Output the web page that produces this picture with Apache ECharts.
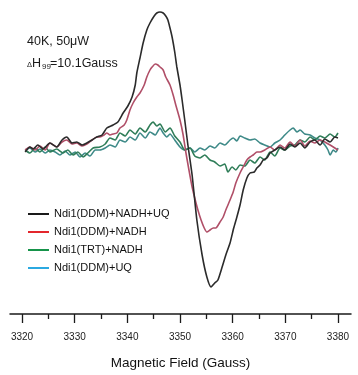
<!DOCTYPE html>
<html>
<head>
<meta charset="utf-8">
<script src="https://cdn.jsdelivr.net/npm/echarts@6/dist/echarts.min.js"></script>
<style>html,body{margin:0;padding:0;background:#fff;}#c{width:358px;height:375px;}</style>
</head>
<body>
<div id="c"></div>
<script>
var seriesNames = ['Ndi1(DDM)+NADH+UQ', 'Ndi1(DDM)+NADH', 'Ndi1(TRT)+NADH', 'Ndi1(DDM)+UQ'];
var majorTicks = [3320, 3330, 3340, 3350, 3360, 3370, 3380];
var minorTicks = [3325, 3335, 3345, 3355, 3365, 3375];

var blackField = [3320.6,3321.5,3322.1,3323.0,3324.0,3325.3,3326.6,3327.6,3328.5,3329.5,3330.4,3331.4,3332.3,3333.3,3334.2,3335.2,3336.1,3337.3,3338.2,3339.2,3340.1,3340.9,3341.5,3341.8,3342.4,3343.0,3343.7,3344.3,3345.1,3345.6,3346.2,3346.8,3347.3,3347.7,3348.1,3348.5,3349.0,3349.4,3350.0,3350.4,3350.9,3351.5,3352.3,3353.2,3354.2,3355.1,3355.9,3356.6,3357.2,3358.0,3358.7,3359.5,3360.2,3360.8,3361.4,3362.0,3362.7,3363.3,3364.1,3364.6,3365.2,3365.8,3366.5,3367.1,3368.0,3369.0,3369.9,3370.9,3371.8,3372.8,3373.7,3374.7,3375.6,3376.6,3377.5,3378.5,3379.4,3380.0];
var blackInt = [-4,1,-1,3,-1,5,1,8,11,5,6,3,5,8,11,13,20,23,26,35,42,51,63,75,90,105,118,125,132,135,136,135,132,128,120,111,96,81,63,48,28,3,-27,-72,-107,-129,-139,-135,-132,-119,-107,-95,-80,-69,-57,-42,-30,-25,-24,-20,-17,-12,-10,-5,-2,1,-2,4,1,5,0,6,8,3,9,6,11,10];

var redField = [3320.6,3321.5,3322.5,3323.4,3324.4,3325.3,3326.6,3327.6,3328.5,3329.5,3330.4,3331.4,3332.3,3333.3,3334.2,3334.8,3335.6,3336.1,3336.7,3337.3,3338.0,3338.6,3339.4,3339.9,3340.5,3341.1,3341.8,3342.4,3343.2,3343.7,3344.3,3344.7,3345.3,3345.8,3346.2,3346.8,3347.3,3348.1,3348.7,3349.2,3350.0,3350.6,3351.1,3351.7,3352.3,3352.8,3353.4,3354.0,3354.6,3355.1,3355.7,3356.3,3356.8,3357.6,3358.2,3358.7,3359.5,3360.1,3360.6,3361.4,3362.0,3362.7,3363.3,3363.9,3364.6,3365.2,3366.1,3367.1,3368.0,3369.0,3369.9,3370.9,3371.8,3372.8,3373.7,3374.7,3375.6,3376.6,3377.5,3378.5,3379.4,3380.0];
var redInt = [-2,1,-2,2,-2,5,1,6,8,4,5,2,4,8,11,11,13,15,13,14,15,20,23,28,38,45,51,55,63,71,78,81,84,83,81,78,71,63,53,43,28,13,-4,-22,-39,-50,-62,-72,-80,-84,-82,-80,-80,-74,-69,-62,-52,-44,-35,-25,-19,-12,-9,-7,-4,-4,-2,1,-2,3,0,6,2,8,2,7,5,8,6,3,0,-2];

var greenField = [3320.6,3321.5,3322.5,3323.4,3324.4,3325.3,3326.6,3327.8,3328.7,3329.7,3330.6,3331.6,3332.5,3333.5,3334.8,3335.8,3336.7,3337.7,3338.6,3339.6,3340.5,3341.5,3342.4,3343.4,3344.3,3344.9,3345.6,3346.2,3347.2,3348.1,3349.0,3350.0,3350.9,3351.9,3352.8,3353.8,3354.7,3355.7,3356.6,3357.6,3358.5,3359.1,3359.9,3360.6,3361.4,3362.3,3363.3,3364.2,3365.2,3366.1,3367.1,3368.0,3369.0,3369.9,3370.9,3371.8,3372.8,3373.7,3374.7,3375.6,3376.6,3377.5,3378.5,3379.4,3380.0];
var greenInt = [-2,-5,0,-4,1,-4,-1,-5,-2,-7,-4,-9,-5,0,1,4,10,8,15,12,18,14,20,16,23,26,22,24,16,20,12,6,-2,0,-8,-10,-7,-12,-14,-18,-16,-24,-19,-22,-17,-18,-12,-15,-9,-12,-4,-8,0,-2,2,3,8,6,11,8,12,10,14,11,15];

var cyanField = [3320.6,3321.5,3322.5,3323.4,3324.4,3325.3,3326.3,3327.2,3328.2,3329.1,3330.1,3331.0,3332.0,3332.9,3333.9,3334.8,3335.8,3336.7,3337.7,3338.6,3339.6,3340.5,3341.5,3342.4,3343.4,3344.3,3345.3,3346.2,3346.8,3347.5,3348.1,3349.0,3350.0,3350.9,3351.9,3352.8,3353.8,3354.7,3355.7,3356.6,3357.6,3358.5,3359.5,3360.1,3360.8,3361.4,3362.3,3363.3,3364.2,3365.2,3366.1,3367.1,3368.0,3369.0,3369.9,3370.9,3371.5,3372.2,3372.8,3373.7,3374.7,3375.6,3376.6,3377.5,3378.1,3378.5,3379.1,3379.6,3380.0];
var cyanInt = [-2,0,-4,-1,-5,-2,-4,-7,-3,-7,-4,-9,-5,-8,-2,-2,0,3,1,8,6,11,8,15,10,16,13,20,15,11,14,8,1,-2,0,-4,0,-2,2,0,5,3,8,10,7,12,10,8,9,5,3,1,5,8,13,18,20,16,18,14,13,10,8,3,-2,-7,-2,-4,0];

var lineColors = ['#2b2b2b', '#b04f68', '#2f7d58', '#3e8a88'];
var legendColors = ['#1a1a1a', '#e3262c', '#16934a', '#2ba9e1'];

function pairs(xs, ys) { return xs.map(function (x, i) { return [x, ys[i]]; }); }
var allData = [pairs(blackField, blackInt), pairs(redField, redInt), pairs(greenField, greenInt), pairs(cyanField, cyanInt)];

var font = '"Liberation Sans", Arial, Helvetica, sans-serif';
var chart = echarts.init(document.getElementById('c'), null, {renderer: 'canvas'});

var series = [];
var order = [3, 2, 1, 0];
order.forEach(function (i) {
  series.push({
    name: seriesNames[i],
    type: 'line',
    xAxisIndex: 0,
    data: allData[i],
    showSymbol: false,
    smooth: 0.2,
    lineStyle: {color: lineColors[i], width: 1.6},
    itemStyle: {color: lineColors[i]},
    animation: false,
    z: 2 + (3 - i)
  });
});

chart.setOption({
  animation: false,
  backgroundColor: '#fff',
  grid: {left: 10, right: 7, top: 10, bottom: 61, containLabel: false, outerBoundsMode: 'none'},
  legend: {
    orient: 'vertical',
    left: 23,
    top: 202,
    icon: 'rect',
    itemWidth: 21,
    itemHeight: 2,
    itemGap: 4,
    textStyle: {fontFamily: font, fontSize: 11, color: '#111', lineHeight: 14},
    data: seriesNames.map(function (n, i) { return {name: n, itemStyle: {color: legendColors[i]}}; })
  },
  xAxis: [{
    type: 'value',
    min: 3317.72,
    max: 3382.47,
    position: 'bottom',
    axisLine: {show: true, onZero: false, lineStyle: {color: '#1a1a1a', width: 1.5}},
    axisTick: {show: true, customValues: majorTicks, length: 9, lineStyle: {color: '#1a1a1a', width: 1.3}},
    axisLabel: {show: true, customValues: majorTicks, margin: 18, fontFamily: font, fontSize: 10, color: '#222',
      formatter: function (v) { return String(v); }},
    splitLine: {show: false},
    name: 'Magnetic Field (Gauss)',
    nameLocation: 'middle',
    nameGap: 42,
    nameTextStyle: {fontFamily: font, fontSize: 13.5, color: '#111'}
  }, {
    type: 'value',
    min: 3317.72,
    max: 3382.47,
    position: 'bottom',
    axisLine: {show: false, onZero: false},
    axisTick: {show: true, customValues: minorTicks, length: 5, lineStyle: {color: '#1a1a1a', width: 1.3}},
    axisLabel: {show: false},
    splitLine: {show: false}
  }],
  yAxis: {
    type: 'value',
    min: -166,
    max: 138,
    show: false,
    splitLine: {show: false}
  },
  graphic: [
    {type: 'text', left: 27, top: 35, style: {text: '40K, 50\u03bcW', fontFamily: font, fontSize: 12.5, fill: '#1a1a1a'}},
    {type: 'text', left: 27, top: 61, style: {text: '\u0394', fontFamily: font, fontSize: 7.5, fill: '#1a1a1a'}},
    {type: 'text', left: 32, top: 57, style: {text: 'H', fontFamily: font, fontSize: 12.5, fill: '#1a1a1a'}},
    {type: 'text', left: 42, top: 63, style: {text: '99', fontFamily: font, fontSize: 8, fill: '#1a1a1a'}},
    {type: 'text', left: 50, top: 57, style: {text: '=10.1Gauss', fontFamily: font, fontSize: 12.5, fill: '#1a1a1a'}}
  ],
  series: series
});
</script>
</body>
</html>
